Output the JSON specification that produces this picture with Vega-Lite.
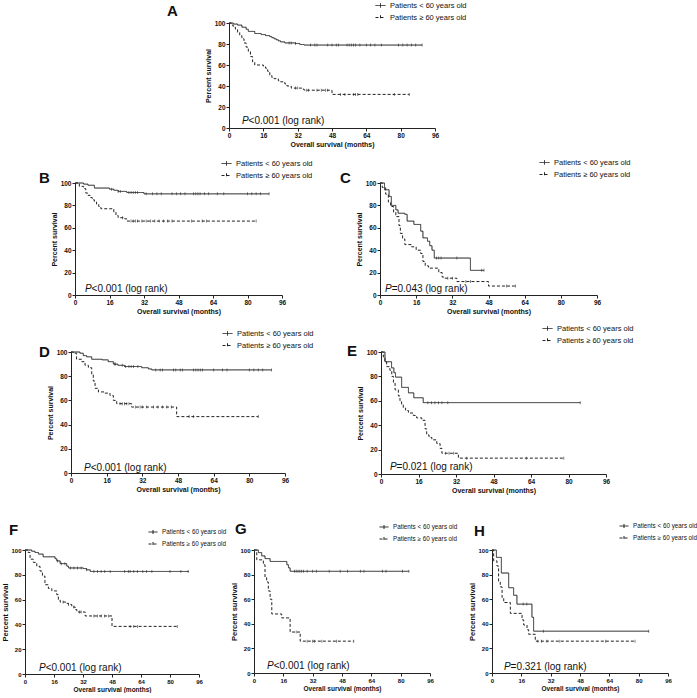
{
"$schema":"https://vega.github.io/schema/vega-lite/v6.json",
"padding":{"left":1,"top":0,"right":0,"bottom":0},
"datasets":{
"km":[
{"p":"A","g":"a","t":0,"s":100},{"p":"A","g":"a","t":2,"s":99},{"p":"A","g":"a","t":4,"s":98},{"p":"A","g":"a","t":6,"s":96},{"p":"A","g":"a","t":8,"s":94},{"p":"A","g":"a","t":9,"s":92},{"p":"A","g":"a","t":12,"s":90},{"p":"A","g":"a","t":15,"s":89},{"p":"A","g":"a","t":17,"s":88},{"p":"A","g":"a","t":19,"s":87},{"p":"A","g":"a","t":20,"s":86},{"p":"A","g":"a","t":21,"s":85},{"p":"A","g":"a","t":22,"s":84},{"p":"A","g":"a","t":23,"s":83},{"p":"A","g":"a","t":24,"s":82},{"p":"A","g":"a","t":26,"s":81},{"p":"A","g":"a","t":31,"s":80.5},{"p":"A","g":"a","t":33,"s":79.5},{"p":"A","g":"a","t":35,"s":79},{"p":"A","g":"a","t":90,"s":79},
{"p":"A","g":"b","t":0,"s":100},{"p":"A","g":"b","t":1,"s":98},{"p":"A","g":"b","t":2,"s":96},{"p":"A","g":"b","t":3,"s":94},{"p":"A","g":"b","t":4,"s":91},{"p":"A","g":"b","t":5,"s":88},{"p":"A","g":"b","t":6,"s":85},{"p":"A","g":"b","t":7,"s":81},{"p":"A","g":"b","t":8,"s":77},{"p":"A","g":"b","t":9,"s":73},{"p":"A","g":"b","t":10,"s":68},{"p":"A","g":"b","t":11,"s":63},{"p":"A","g":"b","t":12,"s":60},{"p":"A","g":"b","t":16,"s":59},{"p":"A","g":"b","t":17,"s":57},{"p":"A","g":"b","t":18,"s":54},{"p":"A","g":"b","t":19,"s":50},{"p":"A","g":"b","t":20,"s":48},{"p":"A","g":"b","t":21,"s":47},{"p":"A","g":"b","t":23,"s":45},{"p":"A","g":"b","t":24,"s":44},{"p":"A","g":"b","t":26,"s":42},{"p":"A","g":"b","t":27,"s":40},{"p":"A","g":"b","t":29,"s":38},{"p":"A","g":"b","t":34,"s":37},{"p":"A","g":"b","t":35,"s":36},{"p":"A","g":"b","t":48,"s":32},{"p":"A","g":"b","t":84,"s":32},
{"p":"B","g":"a","t":0,"s":100},{"p":"B","g":"a","t":4,"s":99},{"p":"B","g":"a","t":6,"s":98},{"p":"B","g":"a","t":9,"s":95.5},{"p":"B","g":"a","t":16,"s":94.5},{"p":"B","g":"a","t":18,"s":93.5},{"p":"B","g":"a","t":20,"s":92.5},{"p":"B","g":"a","t":24,"s":91.5},{"p":"B","g":"a","t":32,"s":90.3},{"p":"B","g":"a","t":90,"s":90.3},
{"p":"B","g":"b","t":0,"s":100},{"p":"B","g":"b","t":2,"s":97},{"p":"B","g":"b","t":4,"s":95},{"p":"B","g":"b","t":5,"s":91},{"p":"B","g":"b","t":6,"s":89},{"p":"B","g":"b","t":7,"s":87},{"p":"B","g":"b","t":8,"s":85},{"p":"B","g":"b","t":9,"s":83},{"p":"B","g":"b","t":10,"s":81},{"p":"B","g":"b","t":11,"s":79},{"p":"B","g":"b","t":12,"s":77},{"p":"B","g":"b","t":18,"s":74},{"p":"B","g":"b","t":19,"s":71},{"p":"B","g":"b","t":20,"s":69},{"p":"B","g":"b","t":23,"s":68},{"p":"B","g":"b","t":24,"s":66},{"p":"B","g":"b","t":84,"s":66},
{"p":"C","g":"a","t":0,"s":100},{"p":"C","g":"a","t":2,"s":94},{"p":"C","g":"a","t":4,"s":88},{"p":"C","g":"a","t":5,"s":80},{"p":"C","g":"a","t":7,"s":76},{"p":"C","g":"a","t":8,"s":73},{"p":"C","g":"a","t":11,"s":72},{"p":"C","g":"a","t":12,"s":66},{"p":"C","g":"a","t":15,"s":63},{"p":"C","g":"a","t":18,"s":57},{"p":"C","g":"a","t":19,"s":51},{"p":"C","g":"a","t":21,"s":48},{"p":"C","g":"a","t":22,"s":44},{"p":"C","g":"a","t":23,"s":40},{"p":"C","g":"a","t":24,"s":33},{"p":"C","g":"a","t":40,"s":22},{"p":"C","g":"a","t":46,"s":22},
{"p":"C","g":"b","t":0,"s":100},{"p":"C","g":"b","t":1,"s":96},{"p":"C","g":"b","t":2.5,"s":90},{"p":"C","g":"b","t":3.7,"s":83},{"p":"C","g":"b","t":4.7,"s":79},{"p":"C","g":"b","t":6,"s":74},{"p":"C","g":"b","t":7,"s":70},{"p":"C","g":"b","t":8.4,"s":62},{"p":"C","g":"b","t":9,"s":55},{"p":"C","g":"b","t":10,"s":50},{"p":"C","g":"b","t":11,"s":45},{"p":"C","g":"b","t":14,"s":43},{"p":"C","g":"b","t":16,"s":40},{"p":"C","g":"b","t":18,"s":37},{"p":"C","g":"b","t":19,"s":30},{"p":"C","g":"b","t":20,"s":26},{"p":"C","g":"b","t":21.5,"s":24},{"p":"C","g":"b","t":26,"s":20},{"p":"C","g":"b","t":27.5,"s":16},{"p":"C","g":"b","t":28.5,"s":15},{"p":"C","g":"b","t":34,"s":12},{"p":"C","g":"b","t":48,"s":8},{"p":"C","g":"b","t":60,"s":8},
{"p":"D","g":"a","t":0,"s":100},{"p":"D","g":"a","t":4,"s":99},{"p":"D","g":"a","t":5.5,"s":97},{"p":"D","g":"a","t":7,"s":96},{"p":"D","g":"a","t":9.3,"s":94},{"p":"D","g":"a","t":14,"s":93.5},{"p":"D","g":"a","t":16.7,"s":92},{"p":"D","g":"a","t":19,"s":90},{"p":"D","g":"a","t":21,"s":89},{"p":"D","g":"a","t":24,"s":88},{"p":"D","g":"a","t":31.7,"s":87},{"p":"D","g":"a","t":34.7,"s":86},{"p":"D","g":"a","t":36.2,"s":85.2},{"p":"D","g":"a","t":90,"s":85.2},
{"p":"D","g":"b","t":0,"s":100},{"p":"D","g":"b","t":1,"s":99},{"p":"D","g":"b","t":2.5,"s":94},{"p":"D","g":"b","t":4.8,"s":92},{"p":"D","g":"b","t":6.3,"s":89},{"p":"D","g":"b","t":7.8,"s":87},{"p":"D","g":"b","t":9.3,"s":81.6},{"p":"D","g":"b","t":10,"s":76},{"p":"D","g":"b","t":10.8,"s":70},{"p":"D","g":"b","t":12.3,"s":67},{"p":"D","g":"b","t":15.2,"s":66},{"p":"D","g":"b","t":17.5,"s":64},{"p":"D","g":"b","t":19,"s":60},{"p":"D","g":"b","t":20.5,"s":57.3},{"p":"D","g":"b","t":27.2,"s":54.5},{"p":"D","g":"b","t":47.4,"s":46.6},{"p":"D","g":"b","t":84,"s":46.6},
{"p":"E","g":"a","t":0,"s":100},{"p":"E","g":"a","t":1.7,"s":92},{"p":"E","g":"a","t":4.5,"s":87},{"p":"E","g":"a","t":5.5,"s":83},{"p":"E","g":"a","t":6.2,"s":79.4},{"p":"E","g":"a","t":8.8,"s":71},{"p":"E","g":"a","t":11.7,"s":66.5},{"p":"E","g":"a","t":14,"s":62.5},{"p":"E","g":"a","t":18,"s":58.5},{"p":"E","g":"a","t":85,"s":58.5},
{"p":"E","g":"b","t":0,"s":100},{"p":"E","g":"b","t":1,"s":96},{"p":"E","g":"b","t":1.7,"s":92},{"p":"E","g":"b","t":2.4,"s":88},{"p":"E","g":"b","t":3.8,"s":85},{"p":"E","g":"b","t":4.6,"s":80},{"p":"E","g":"b","t":5.3,"s":75},{"p":"E","g":"b","t":6,"s":69},{"p":"E","g":"b","t":7.4,"s":64},{"p":"E","g":"b","t":8.1,"s":60},{"p":"E","g":"b","t":8.8,"s":57},{"p":"E","g":"b","t":9.5,"s":54},{"p":"E","g":"b","t":10.5,"s":52},{"p":"E","g":"b","t":11.7,"s":50},{"p":"E","g":"b","t":13.8,"s":48},{"p":"E","g":"b","t":15.2,"s":46},{"p":"E","g":"b","t":17.4,"s":44},{"p":"E","g":"b","t":18.8,"s":37},{"p":"E","g":"b","t":19.5,"s":32},{"p":"E","g":"b","t":20.5,"s":30},{"p":"E","g":"b","t":21.7,"s":28},{"p":"E","g":"b","t":23.8,"s":25},{"p":"E","g":"b","t":25.2,"s":21},{"p":"E","g":"b","t":26,"s":17},{"p":"E","g":"b","t":33,"s":13},{"p":"E","g":"b","t":78,"s":13},
{"p":"F","g":"a","t":0,"s":100},{"p":"F","g":"a","t":3.7,"s":99},{"p":"F","g":"a","t":5.5,"s":98},{"p":"F","g":"a","t":7.4,"s":96.7},{"p":"F","g":"a","t":10,"s":94.5},{"p":"F","g":"a","t":16.6,"s":93},{"p":"F","g":"a","t":17.5,"s":91.2},{"p":"F","g":"a","t":19.4,"s":89},{"p":"F","g":"a","t":23,"s":87},{"p":"F","g":"a","t":24,"s":85.5},{"p":"F","g":"a","t":32.3,"s":85},{"p":"F","g":"a","t":34,"s":84},{"p":"F","g":"a","t":36,"s":82.7},{"p":"F","g":"a","t":90.4,"s":82.7},
{"p":"F","g":"b","t":0,"s":100},{"p":"F","g":"b","t":1.8,"s":98},{"p":"F","g":"b","t":2.8,"s":92.6},{"p":"F","g":"b","t":4.6,"s":90},{"p":"F","g":"b","t":6.5,"s":86.8},{"p":"F","g":"b","t":8.3,"s":83},{"p":"F","g":"b","t":9.6,"s":78.9},{"p":"F","g":"b","t":11,"s":72},{"p":"F","g":"b","t":12.9,"s":69},{"p":"F","g":"b","t":14.8,"s":67},{"p":"F","g":"b","t":17.5,"s":64},{"p":"F","g":"b","t":18.4,"s":60},{"p":"F","g":"b","t":19.4,"s":58},{"p":"F","g":"b","t":23,"s":57},{"p":"F","g":"b","t":24,"s":56},{"p":"F","g":"b","t":25.8,"s":54},{"p":"F","g":"b","t":27.7,"s":52},{"p":"F","g":"b","t":28.6,"s":50},{"p":"F","g":"b","t":33.2,"s":46.8},{"p":"F","g":"b","t":48,"s":38.4},{"p":"F","g":"b","t":84,"s":38.4},
{"p":"G","g":"a","t":0,"s":100},{"p":"G","g":"a","t":2.4,"s":97.9},{"p":"G","g":"a","t":4.2,"s":95.2},{"p":"G","g":"a","t":6,"s":93},{"p":"G","g":"a","t":8.8,"s":90.7},{"p":"G","g":"a","t":17.9,"s":88},{"p":"G","g":"a","t":18.8,"s":85.5},{"p":"G","g":"a","t":19.7,"s":82.7},{"p":"G","g":"a","t":84.5,"s":82.7},
{"p":"G","g":"b","t":0,"s":100},{"p":"G","g":"b","t":1.5,"s":92},{"p":"G","g":"b","t":5.1,"s":88},{"p":"G","g":"b","t":6,"s":78},{"p":"G","g":"b","t":6.9,"s":74},{"p":"G","g":"b","t":7.8,"s":66.7},{"p":"G","g":"b","t":8.8,"s":60},{"p":"G","g":"b","t":9.7,"s":48},{"p":"G","g":"b","t":15.1,"s":44.8},{"p":"G","g":"b","t":19.7,"s":33.3},{"p":"G","g":"b","t":25.2,"s":25.9},{"p":"G","g":"b","t":54.4,"s":25.9},
{"p":"H","g":"a","t":0,"s":100},{"p":"H","g":"a","t":2.4,"s":94},{"p":"H","g":"a","t":5.1,"s":81.3},{"p":"H","g":"a","t":9.1,"s":69.3},{"p":"H","g":"a","t":11.8,"s":63.2},{"p":"H","g":"a","t":13.6,"s":56},{"p":"H","g":"a","t":21.8,"s":45.3},{"p":"H","g":"a","t":22.7,"s":34},{"p":"H","g":"a","t":85.5,"s":34},
{"p":"H","g":"b","t":0,"s":100},{"p":"H","g":"b","t":0.9,"s":91.2},{"p":"H","g":"b","t":2.7,"s":87},{"p":"H","g":"b","t":3.6,"s":74},{"p":"H","g":"b","t":4.5,"s":70},{"p":"H","g":"b","t":5.5,"s":61.3},{"p":"H","g":"b","t":6.4,"s":57.3},{"p":"H","g":"b","t":10,"s":48.5},{"p":"H","g":"b","t":16.4,"s":43.2},{"p":"H","g":"b","t":17.3,"s":39},{"p":"H","g":"b","t":19.1,"s":35.2},{"p":"H","g":"b","t":20,"s":31.5},{"p":"H","g":"b","t":23.6,"s":25.9},{"p":"H","g":"b","t":78,"s":25.9}
],
"cens":[
{"p":"A","t":28,"s":81},{"p":"A","t":29,"s":81},{"p":"A","t":31,"s":80.5},{"p":"A","t":38,"s":79},{"p":"A","t":40,"s":79},{"p":"A","t":41,"s":79},{"p":"A","t":46,"s":79},{"p":"A","t":48,"s":79},{"p":"A","t":50,"s":79},{"p":"A","t":51,"s":79},{"p":"A","t":55,"s":79},{"p":"A","t":56,"s":79},{"p":"A","t":57,"s":79},{"p":"A","t":58,"s":79},{"p":"A","t":59,"s":79},{"p":"A","t":61,"s":79},{"p":"A","t":64,"s":79},{"p":"A","t":66,"s":79},{"p":"A","t":68,"s":79},{"p":"A","t":71,"s":79},{"p":"A","t":79,"s":79},{"p":"A","t":81,"s":79},{"p":"A","t":83,"s":79},{"p":"A","t":85,"s":79},{"p":"A","t":87,"s":79},{"p":"A","t":90,"s":79},
{"p":"A","t":31,"s":38},{"p":"A","t":32,"s":38},{"p":"A","t":36,"s":36},{"p":"A","t":37,"s":36},{"p":"A","t":41,"s":36},{"p":"A","t":43,"s":36},{"p":"A","t":45,"s":36},{"p":"A","t":46,"s":36},{"p":"A","t":52,"s":32},{"p":"A","t":54,"s":32},{"p":"A","t":58,"s":32},{"p":"A","t":59,"s":32},{"p":"A","t":60,"s":32},{"p":"A","t":77,"s":32},{"p":"A","t":84,"s":32},
{"p":"B","t":17,"s":94.5},{"p":"B","t":20,"s":92.5},{"p":"B","t":21,"s":92.5},{"p":"B","t":25,"s":91.5},{"p":"B","t":26,"s":91.5},{"p":"B","t":27,"s":91.5},{"p":"B","t":28,"s":91.5},{"p":"B","t":29,"s":91.5},{"p":"B","t":33,"s":90.3},{"p":"B","t":36,"s":90.3},{"p":"B","t":38,"s":90.3},{"p":"B","t":40,"s":90.3},{"p":"B","t":45,"s":90.3},{"p":"B","t":47,"s":90.3},{"p":"B","t":49,"s":90.3},{"p":"B","t":51,"s":90.3},{"p":"B","t":55,"s":90.3},{"p":"B","t":56,"s":90.3},{"p":"B","t":57,"s":90.3},{"p":"B","t":58,"s":90.3},{"p":"B","t":60,"s":90.3},{"p":"B","t":62,"s":90.3},{"p":"B","t":66,"s":90.3},{"p":"B","t":69,"s":90.3},{"p":"B","t":80,"s":90.3},{"p":"B","t":82,"s":90.3},{"p":"B","t":84,"s":90.3},{"p":"B","t":86,"s":90.3},{"p":"B","t":90,"s":90.3},
{"p":"B","t":22,"s":69},{"p":"B","t":26,"s":66},{"p":"B","t":27,"s":66},{"p":"B","t":28,"s":66},{"p":"B","t":29,"s":66},{"p":"B","t":31,"s":66},{"p":"B","t":33,"s":66},{"p":"B","t":35,"s":66},{"p":"B","t":37,"s":66},{"p":"B","t":39,"s":66},{"p":"B","t":41,"s":66},{"p":"B","t":43,"s":66},{"p":"B","t":45,"s":66},{"p":"B","t":54,"s":66},{"p":"B","t":59,"s":66},{"p":"B","t":61,"s":66},{"p":"B","t":84,"s":66},
{"p":"C","t":25,"s":33},{"p":"C","t":26,"s":33},{"p":"C","t":27,"s":33},{"p":"C","t":34,"s":33},{"p":"C","t":45,"s":22},{"p":"C","t":46,"s":22},
{"p":"C","t":30,"s":15},{"p":"C","t":32,"s":15},{"p":"C","t":38,"s":12},{"p":"C","t":40,"s":12},{"p":"C","t":56,"s":8},{"p":"C","t":60,"s":8},
{"p":"D","t":19.5,"s":90},{"p":"D","t":20,"s":90},{"p":"D","t":23,"s":89},{"p":"D","t":24.5,"s":88},{"p":"D","t":26,"s":88},{"p":"D","t":27,"s":88},{"p":"D","t":28,"s":88},{"p":"D","t":30,"s":88},{"p":"D","t":38,"s":85.2},{"p":"D","t":40,"s":85.2},{"p":"D","t":41,"s":85.2},{"p":"D","t":46,"s":85.2},{"p":"D","t":47,"s":85.2},{"p":"D","t":49,"s":85.2},{"p":"D","t":50,"s":85.2},{"p":"D","t":55,"s":85.2},{"p":"D","t":56,"s":85.2},{"p":"D","t":57,"s":85.2},{"p":"D","t":58,"s":85.2},{"p":"D","t":59,"s":85.2},{"p":"D","t":64,"s":85.2},{"p":"D","t":68,"s":85.2},{"p":"D","t":70,"s":85.2},{"p":"D","t":80,"s":85.2},{"p":"D","t":82,"s":85.2},{"p":"D","t":84,"s":85.2},{"p":"D","t":86,"s":85.2},{"p":"D","t":90,"s":85.2},
{"p":"D","t":22,"s":57.3},{"p":"D","t":23,"s":57.3},{"p":"D","t":24,"s":57.3},{"p":"D","t":25,"s":57.3},{"p":"D","t":26,"s":57.3},{"p":"D","t":29,"s":54.5},{"p":"D","t":31,"s":54.5},{"p":"D","t":32,"s":54.5},{"p":"D","t":34,"s":54.5},{"p":"D","t":37,"s":54.5},{"p":"D","t":39,"s":54.5},{"p":"D","t":41,"s":54.5},{"p":"D","t":43,"s":54.5},{"p":"D","t":45,"s":54.5},{"p":"D","t":53,"s":46.6},{"p":"D","t":55,"s":46.6},{"p":"D","t":84,"s":46.6},
{"p":"E","t":20,"s":58.5},{"p":"E","t":21.5,"s":58.5},{"p":"E","t":23,"s":58.5},{"p":"E","t":24.5,"s":58.5},{"p":"E","t":26,"s":58.5},{"p":"E","t":28.5,"s":58.5},{"p":"E","t":85,"s":58.5},
{"p":"E","t":27.5,"s":17},{"p":"E","t":29,"s":17},{"p":"E","t":31,"s":17},{"p":"E","t":36.6,"s":13},{"p":"E","t":62,"s":13},{"p":"E","t":78,"s":13},
{"p":"F","t":18,"s":91.2},{"p":"F","t":20,"s":89},{"p":"F","t":22,"s":89},{"p":"F","t":25,"s":85.5},{"p":"F","t":27,"s":85.5},{"p":"F","t":29,"s":85.5},{"p":"F","t":31,"s":85.5},{"p":"F","t":34,"s":84},{"p":"F","t":38,"s":82.7},{"p":"F","t":40,"s":82.7},{"p":"F","t":42,"s":82.7},{"p":"F","t":44,"s":82.7},{"p":"F","t":47,"s":82.7},{"p":"F","t":55,"s":82.7},{"p":"F","t":57,"s":82.7},{"p":"F","t":58,"s":82.7},{"p":"F","t":60,"s":82.7},{"p":"F","t":62,"s":82.7},{"p":"F","t":65,"s":82.7},{"p":"F","t":67,"s":82.7},{"p":"F","t":70,"s":82.7},{"p":"F","t":80,"s":82.7},{"p":"F","t":86,"s":82.7},{"p":"F","t":90,"s":82.7},
{"p":"F","t":21,"s":58},{"p":"F","t":24,"s":56},{"p":"F","t":27,"s":54},{"p":"F","t":30,"s":50},{"p":"F","t":31,"s":50},{"p":"F","t":38,"s":46.8},{"p":"F","t":40,"s":46.8},{"p":"F","t":42,"s":46.8},{"p":"F","t":44,"s":46.8},{"p":"F","t":46,"s":46.8},{"p":"F","t":58,"s":38.4},{"p":"F","t":60,"s":38.4},{"p":"F","t":62,"s":38.4},{"p":"F","t":84,"s":38.4},
{"p":"G","t":22,"s":82.7},{"p":"G","t":23,"s":82.7},{"p":"G","t":24,"s":82.7},{"p":"G","t":25,"s":82.7},{"p":"G","t":26,"s":82.7},{"p":"G","t":27,"s":82.7},{"p":"G","t":29,"s":82.7},{"p":"G","t":32,"s":82.7},{"p":"G","t":34,"s":82.7},{"p":"G","t":41,"s":82.7},{"p":"G","t":47,"s":82.7},{"p":"G","t":51,"s":82.7},{"p":"G","t":58,"s":82.7},{"p":"G","t":60,"s":82.7},{"p":"G","t":70,"s":82.7},{"p":"G","t":72,"s":82.7},{"p":"G","t":81,"s":82.7},{"p":"G","t":84.5,"s":82.7},
{"p":"G","t":23,"s":33.3},{"p":"G","t":29,"s":25.9},{"p":"G","t":32,"s":25.9},{"p":"G","t":33,"s":25.9},{"p":"G","t":37,"s":25.9},{"p":"G","t":45,"s":25.9},{"p":"G","t":54.4,"s":25.9},
{"p":"H","t":17,"s":56},{"p":"H","t":19,"s":56},{"p":"H","t":28,"s":34},{"p":"H","t":85.5,"s":34},
{"p":"H","t":25,"s":25.9},{"p":"H","t":27,"s":25.9},{"p":"H","t":30,"s":25.9},{"p":"H","t":37,"s":25.9},{"p":"H","t":62,"s":25.9},{"p":"H","t":78,"s":25.9}
]
},
"bounds":"flush",
"spacing":0,
"resolve":{"scale":{"strokeDash":"independent"},"legend":{"strokeDash":"independent"}},
"vconcat":[
{"hconcat":[
 {"width":204,"height":1,"data":{"values":[]},"mark":"point","encoding":{}},
 {"width":206,"height":105,
  "title":{"text":"A","anchor":"start","frame":"group","offset":0,"dx":-62,"dy":31,"fontSize":15,"fontWeight":"bold","baseline":"alphabetic","color":"#111"},
  "layer":[
   {"data":{"name":"km"},"transform":[{"filter":"datum.p=='A'"}],"mark":{"type":"line","interpolate":"step-after","color":"#222","strokeWidth":1},"encoding":{"x":{"field":"t","type":"quantitative","scale":{"domain":[0,96],"nice":false},"axis":{"values":[0,16,32,48,64,80,96],"title":"Overall survival (months)","labelOverlap":false}},"y":{"field":"s","type":"quantitative","scale":{"domain":[0,100]},"axis":{"values":[0,20,40,60,80,100],"title":"Percent survival","labelOverlap":false}},"strokeDash":{"field":"g","type":"nominal","title":null,"scale":{"domain":["a","b"],"range":[[1,0],[3,2]]},"legend":{"orient":"none","legendX":146,"legendY":-23,"labelExpr":"datum.value === 'a' ? 'Patients < 60 years old' : 'Patients ≥ 60 years old'","symbolType":"M-1,0H1M0,-0.45V0.45","labelFontSize":7.5}}}},
   {"data":{"name":"cens"},"transform":[{"filter":"datum.p=='A'"}],"mark":{"type":"tick","orient":"vertical","size":3,"thickness":0.8,"color":"#222"},"encoding":{"x":{"field":"t","type":"quantitative","scale":{"domain":[0,96],"nice":false},"axis":{"values":[0,16,32,48,64,80,96],"title":"Overall survival (months)","labelOverlap":false}},"y":{"field":"s","type":"quantitative","scale":{"domain":[0,100]},"axis":{"values":[0,20,40,60,80,100],"title":"Percent survival","labelOverlap":false}}}},
   {"data":{"values":[{"lbl":"P"}]},"mark":{"type":"text","fontStyle":"italic","fontSize":10,"align":"left","baseline":"alphabetic","color":"#111"},"encoding":{"x":{"datum":6,"type":"quantitative","scale":{"domain":[0,96],"nice":false},"axis":{"values":[0,16,32,48,64,80,96],"title":"Overall survival (months)","labelOverlap":false}},"y":{"datum":4,"type":"quantitative","scale":{"domain":[0,100]},"axis":{"values":[0,20,40,60,80,100],"title":"Percent survival","labelOverlap":false}},"text":{"field":"lbl"}}},
   {"data":{"values":[{"lbl":"<0.001 (log rank)"}]},"mark":{"type":"text","dx":6.7,"fontSize":10,"align":"left","baseline":"alphabetic","color":"#111"},"encoding":{"x":{"datum":6,"type":"quantitative","scale":{"domain":[0,96],"nice":false},"axis":{"values":[0,16,32,48,64,80,96],"title":"Overall survival (months)","labelOverlap":false}},"y":{"datum":4,"type":"quantitative","scale":{"domain":[0,100]},"axis":{"values":[0,20,40,60,80,100],"title":"Percent survival","labelOverlap":false}},"text":{"field":"lbl"}}}
  ]}
 ],"spacing":0,"bounds":"flush","resolve":{"scale":{"strokeDash":"independent"},"legend":{"strokeDash":"independent"}}},
{"width":1,"height":160,"data":{"values":[]},"mark":"point","encoding":{}},
{"hconcat":[
 {"width":50,"height":1,"data":{"values":[]},"mark":"point","encoding":{}},
 {"hconcat":[
  {"width":207,"height":112,
   "title":{"text":"B","anchor":"start","frame":"group","offset":0,"dx":-36,"dy":40,"fontSize":15,"fontWeight":"bold","baseline":"alphabetic","color":"#111"},
   "layer":[
    {"data":{"name":"km"},"transform":[{"filter":"datum.p=='B'"}],"mark":{"type":"line","interpolate":"step-after","color":"#222","strokeWidth":1},"encoding":{"x":{"field":"t","type":"quantitative","scale":{"domain":[0,96],"nice":false},"axis":{"values":[0,16,32,48,64,80,96],"title":"Overall survival (months)","labelOverlap":false}},"y":{"field":"s","type":"quantitative","scale":{"domain":[0,100]},"axis":{"values":[0,20,40,60,80,100],"title":"Percent survival","labelOverlap":false}},"strokeDash":{"field":"g","type":"nominal","title":null,"scale":{"domain":["a","b"],"range":[[1,0],[3,2]]},"legend":{"orient":"none","legendX":146,"legendY":-25,"labelExpr":"datum.value === 'a' ? 'Patients < 60 years old' : 'Patients ≥ 60 years old'","symbolType":"M-1,0H1M0,-0.45V0.45","labelFontSize":7.5}}}},
    {"data":{"name":"cens"},"transform":[{"filter":"datum.p=='B'"}],"mark":{"type":"tick","orient":"vertical","size":3,"thickness":0.8,"color":"#222"},"encoding":{"x":{"field":"t","type":"quantitative","scale":{"domain":[0,96],"nice":false},"axis":{"values":[0,16,32,48,64,80,96],"title":"Overall survival (months)","labelOverlap":false}},"y":{"field":"s","type":"quantitative","scale":{"domain":[0,100]},"axis":{"values":[0,20,40,60,80,100],"title":"Percent survival","labelOverlap":false}}}},
    {"data":{"values":[{"lbl":"P"}]},"mark":{"type":"text","fontStyle":"italic","fontSize":10,"align":"left","baseline":"alphabetic","color":"#111"},"encoding":{"x":{"datum":4.6,"type":"quantitative","scale":{"domain":[0,96],"nice":false},"axis":{"values":[0,16,32,48,64,80,96],"title":"Overall survival (months)","labelOverlap":false}},"y":{"datum":3,"type":"quantitative","scale":{"domain":[0,100]},"axis":{"values":[0,20,40,60,80,100],"title":"Percent survival","labelOverlap":false}},"text":{"field":"lbl"}}},
    {"data":{"values":[{"lbl":"<0.001 (log rank)"}]},"mark":{"type":"text","dx":6.7,"fontSize":10,"align":"left","baseline":"alphabetic","color":"#111"},"encoding":{"x":{"datum":4.6,"type":"quantitative","scale":{"domain":[0,96],"nice":false},"axis":{"values":[0,16,32,48,64,80,96],"title":"Overall survival (months)","labelOverlap":false}},"y":{"datum":3,"type":"quantitative","scale":{"domain":[0,100]},"axis":{"values":[0,20,40,60,80,100],"title":"Percent survival","labelOverlap":false}},"text":{"field":"lbl"}}}
   ]},
  {"width":217,"height":112,
   "title":{"text":"C","anchor":"start","frame":"group","offset":0,"dx":-40,"dy":41,"fontSize":15,"fontWeight":"bold","baseline":"alphabetic","color":"#111"},
   "layer":[
    {"data":{"name":"km"},"transform":[{"filter":"datum.p=='C'"}],"mark":{"type":"line","interpolate":"step-after","color":"#222","strokeWidth":1},"encoding":{"x":{"field":"t","type":"quantitative","scale":{"domain":[0,96],"nice":false},"axis":{"values":[0,16,32,48,64,80,96],"title":"Overall survival (months)","labelOverlap":false}},"y":{"field":"s","type":"quantitative","scale":{"domain":[0,100]},"axis":{"values":[0,20,40,60,80,100],"title":"Percent survival","labelOverlap":false}},"strokeDash":{"field":"g","type":"nominal","title":null,"scale":{"domain":["a","b"],"range":[[1,0],[3,2]]},"legend":{"orient":"none","legendX":159,"legendY":-26,"labelExpr":"datum.value === 'a' ? 'Patients < 60 years old' : 'Patients ≥ 60 years old'","symbolType":"M-1,0H1M0,-0.45V0.45","labelFontSize":7.5}}}},
    {"data":{"name":"cens"},"transform":[{"filter":"datum.p=='C'"}],"mark":{"type":"tick","orient":"vertical","size":3,"thickness":0.8,"color":"#222"},"encoding":{"x":{"field":"t","type":"quantitative","scale":{"domain":[0,96],"nice":false},"axis":{"values":[0,16,32,48,64,80,96],"title":"Overall survival (months)","labelOverlap":false}},"y":{"field":"s","type":"quantitative","scale":{"domain":[0,100]},"axis":{"values":[0,20,40,60,80,100],"title":"Percent survival","labelOverlap":false}}}},
    {"data":{"values":[{"lbl":"P"}]},"mark":{"type":"text","fontStyle":"italic","fontSize":10,"align":"left","baseline":"alphabetic","color":"#111"},"encoding":{"x":{"datum":2.2,"type":"quantitative","scale":{"domain":[0,96],"nice":false},"axis":{"values":[0,16,32,48,64,80,96],"title":"Overall survival (months)","labelOverlap":false}},"y":{"datum":2.7,"type":"quantitative","scale":{"domain":[0,100]},"axis":{"values":[0,20,40,60,80,100],"title":"Percent survival","labelOverlap":false}},"text":{"field":"lbl"}}},
    {"data":{"values":[{"lbl":"=0.043 (log rank)"}]},"mark":{"type":"text","dx":6.7,"fontSize":10,"align":"left","baseline":"alphabetic","color":"#111"},"encoding":{"x":{"datum":2.2,"type":"quantitative","scale":{"domain":[0,96],"nice":false},"axis":{"values":[0,16,32,48,64,80,96],"title":"Overall survival (months)","labelOverlap":false}},"y":{"datum":2.7,"type":"quantitative","scale":{"domain":[0,100]},"axis":{"values":[0,20,40,60,80,100],"title":"Percent survival","labelOverlap":false}},"text":{"field":"lbl"}}}
   ]}
 ],"spacing":98,"bounds":"flush","resolve":{"scale":{"strokeDash":"independent"},"legend":{"strokeDash":"independent"}}}
 ],"spacing":0,"bounds":"flush","resolve":{"scale":{"strokeDash":"independent"},"legend":{"strokeDash":"independent"}}},
{"width":1,"height":169,"data":{"values":[]},"mark":"point","encoding":{}},
{"hconcat":[
 {"width":46,"height":1,"data":{"values":[]},"mark":"point","encoding":{}},
 {"hconcat":[
  {"width":214,"height":121,
   "title":{"text":"D","anchor":"start","frame":"group","offset":0,"dx":-32,"dy":44,"fontSize":15,"fontWeight":"bold","baseline":"alphabetic","color":"#111"},
   "layer":[
    {"data":{"name":"km"},"transform":[{"filter":"datum.p=='D'"}],"mark":{"type":"line","interpolate":"step-after","color":"#222","strokeWidth":1},"encoding":{"x":{"field":"t","type":"quantitative","scale":{"domain":[0,96],"nice":false},"axis":{"values":[0,16,32,48,64,80,96],"title":"Overall survival (months)","labelOverlap":false}},"y":{"field":"s","type":"quantitative","scale":{"domain":[0,100]},"axis":{"values":[0,20,40,60,80,100],"title":"Percent survival","labelOverlap":false}},"strokeDash":{"field":"g","type":"nominal","title":null,"scale":{"domain":["a","b"],"range":[[1,0],[3,2]]},"legend":{"orient":"none","legendX":151,"legendY":-24,"labelExpr":"datum.value === 'a' ? 'Patients < 60 years old' : 'Patients ≥ 60 years old'","symbolType":"M-1,0H1M0,-0.45V0.45","labelFontSize":7.5}}}},
    {"data":{"name":"cens"},"transform":[{"filter":"datum.p=='D'"}],"mark":{"type":"tick","orient":"vertical","size":3,"thickness":0.8,"color":"#222"},"encoding":{"x":{"field":"t","type":"quantitative","scale":{"domain":[0,96],"nice":false},"axis":{"values":[0,16,32,48,64,80,96],"title":"Overall survival (months)","labelOverlap":false}},"y":{"field":"s","type":"quantitative","scale":{"domain":[0,100]},"axis":{"values":[0,20,40,60,80,100],"title":"Percent survival","labelOverlap":false}}}},
    {"data":{"values":[{"lbl":"P"}]},"mark":{"type":"text","fontStyle":"italic","fontSize":10,"align":"left","baseline":"alphabetic","color":"#111"},"encoding":{"x":{"datum":5.8,"type":"quantitative","scale":{"domain":[0,96],"nice":false},"axis":{"values":[0,16,32,48,64,80,96],"title":"Overall survival (months)","labelOverlap":false}},"y":{"datum":2,"type":"quantitative","scale":{"domain":[0,100]},"axis":{"values":[0,20,40,60,80,100],"title":"Percent survival","labelOverlap":false}},"text":{"field":"lbl"}}},
    {"data":{"values":[{"lbl":"<0.001 (log rank)"}]},"mark":{"type":"text","dx":6.7,"fontSize":10,"align":"left","baseline":"alphabetic","color":"#111"},"encoding":{"x":{"datum":5.8,"type":"quantitative","scale":{"domain":[0,96],"nice":false},"axis":{"values":[0,16,32,48,64,80,96],"title":"Overall survival (months)","labelOverlap":false}},"y":{"datum":2,"type":"quantitative","scale":{"domain":[0,100]},"axis":{"values":[0,20,40,60,80,100],"title":"Percent survival","labelOverlap":false}},"text":{"field":"lbl"}}}
   ]},
  {"width":225,"height":122,
   "title":{"text":"E","anchor":"start","frame":"group","offset":0,"dx":-34,"dy":48,"fontSize":15,"fontWeight":"bold","baseline":"alphabetic","color":"#111"},
   "layer":[
    {"data":{"name":"km"},"transform":[{"filter":"datum.p=='E'"}],"mark":{"type":"line","interpolate":"step-after","color":"#222","strokeWidth":1},"encoding":{"x":{"field":"t","type":"quantitative","scale":{"domain":[0,96],"nice":false},"axis":{"values":[0,16,32,48,64,80,96],"title":"Overall survival (months)","labelOverlap":false}},"y":{"field":"s","type":"quantitative","scale":{"domain":[0,100]},"axis":{"values":[0,20,40,60,80,100],"title":"Percent survival","labelOverlap":false}},"strokeDash":{"field":"g","type":"nominal","title":null,"scale":{"domain":["a","b"],"range":[[1,0],[3,2]]},"legend":{"orient":"none","legendX":161,"legendY":-29,"labelExpr":"datum.value === 'a' ? 'Patients < 60 years old' : 'Patients ≥ 60 years old'","symbolType":"M-1,0H1M0,-0.45V0.45","labelFontSize":7.5}}}},
    {"data":{"name":"cens"},"transform":[{"filter":"datum.p=='E'"}],"mark":{"type":"tick","orient":"vertical","size":3,"thickness":0.8,"color":"#222"},"encoding":{"x":{"field":"t","type":"quantitative","scale":{"domain":[0,96],"nice":false},"axis":{"values":[0,16,32,48,64,80,96],"title":"Overall survival (months)","labelOverlap":false}},"y":{"field":"s","type":"quantitative","scale":{"domain":[0,100]},"axis":{"values":[0,20,40,60,80,100],"title":"Percent survival","labelOverlap":false}}}},
    {"data":{"values":[{"lbl":"P"}]},"mark":{"type":"text","fontStyle":"italic","fontSize":10,"align":"left","baseline":"alphabetic","color":"#111"},"encoding":{"x":{"datum":3.8,"type":"quantitative","scale":{"domain":[0,96],"nice":false},"axis":{"values":[0,16,32,48,64,80,96],"title":"Overall survival (months)","labelOverlap":false}},"y":{"datum":3,"type":"quantitative","scale":{"domain":[0,100]},"axis":{"values":[0,20,40,60,80,100],"title":"Percent survival","labelOverlap":false}},"text":{"field":"lbl"}}},
    {"data":{"values":[{"lbl":"=0.021 (log rank)"}]},"mark":{"type":"text","dx":6.7,"fontSize":10,"align":"left","baseline":"alphabetic","color":"#111"},"encoding":{"x":{"datum":3.8,"type":"quantitative","scale":{"domain":[0,96],"nice":false},"axis":{"values":[0,16,32,48,64,80,96],"title":"Overall survival (months)","labelOverlap":false}},"y":{"datum":3,"type":"quantitative","scale":{"domain":[0,100]},"axis":{"values":[0,20,40,60,80,100],"title":"Percent survival","labelOverlap":false}},"text":{"field":"lbl"}}}
   ]}
 ],"spacing":96,"bounds":"flush","resolve":{"scale":{"strokeDash":"independent"},"legend":{"strokeDash":"independent"}}}
 ],"spacing":0,"bounds":"flush","resolve":{"scale":{"strokeDash":"independent"},"legend":{"strokeDash":"independent"}}},
{"width":1,"height":198,"data":{"values":[]},"mark":"point","encoding":{}},
{"hconcat":[
 {"width":174,"height":124,
  "title":{"text":"F","anchor":"start","frame":"group","offset":0,"dx":-16,"dy":23,"fontSize":15,"fontWeight":"bold","baseline":"alphabetic","color":"#111"},
  "layer":[
   {"data":{"name":"km"},"transform":[{"filter":"datum.p=='F'"}],"mark":{"type":"line","interpolate":"step-after","color":"#222","strokeWidth":1},"encoding":{"x":{"field":"t","type":"quantitative","scale":{"domain":[0,96],"nice":false},"axis":{"values":[0,16,32,48,64,80,96],"title":"Overall survival (months)","labelFontSize":6,"titleFontSize":6.5,"labelOverlap":false}},"y":{"field":"s","type":"quantitative","scale":{"domain":[0,100]},"axis":{"values":[0,20,40,60,80,100],"title":"Percent survival","labelFontSize":6,"titleFontSize":7.5,"titlePadding":1,"labelOverlap":false}},"strokeDash":{"field":"g","type":"nominal","title":null,"scale":{"domain":["a","b"],"range":[[1,0],[3,2]]},"legend":{"orient":"none","legendX":123,"legendY":-23,"labelExpr":"datum.value === 'a' ? 'Patients < 60 years old' : 'Patients ≥ 60 years old'","symbolType":"M-1,0H1M0,-0.45V0.45","labelFontSize":6.3,"symbolSize":81}}}},
   {"data":{"name":"cens"},"transform":[{"filter":"datum.p=='F'"}],"mark":{"type":"tick","orient":"vertical","size":3,"thickness":0.8,"color":"#222"},"encoding":{"x":{"field":"t","type":"quantitative","scale":{"domain":[0,96],"nice":false},"axis":{"values":[0,16,32,48,64,80,96],"title":"Overall survival (months)","labelFontSize":6,"titleFontSize":6.5,"labelOverlap":false}},"y":{"field":"s","type":"quantitative","scale":{"domain":[0,100]},"axis":{"values":[0,20,40,60,80,100],"title":"Percent survival","labelFontSize":6,"titleFontSize":7.5,"titlePadding":1,"labelOverlap":false}}}},
   {"data":{"values":[{"lbl":"P"}]},"mark":{"type":"text","fontStyle":"italic","fontSize":10,"align":"left","baseline":"alphabetic","color":"#111"},"encoding":{"x":{"datum":7.7,"type":"quantitative","scale":{"domain":[0,96],"nice":false},"axis":{"values":[0,16,32,48,64,80,96],"title":"Overall survival (months)","labelFontSize":6,"titleFontSize":6.5,"labelOverlap":false}},"y":{"datum":2.7,"type":"quantitative","scale":{"domain":[0,100]},"axis":{"values":[0,20,40,60,80,100],"title":"Percent survival","labelFontSize":6,"titleFontSize":7.5,"titlePadding":1,"labelOverlap":false}},"text":{"field":"lbl"}}},
   {"data":{"values":[{"lbl":"<0.001 (log rank)"}]},"mark":{"type":"text","dx":6.7,"fontSize":10,"align":"left","baseline":"alphabetic","color":"#111"},"encoding":{"x":{"datum":7.7,"type":"quantitative","scale":{"domain":[0,96],"nice":false},"axis":{"values":[0,16,32,48,64,80,96],"title":"Overall survival (months)","labelFontSize":6,"titleFontSize":6.5,"labelOverlap":false}},"y":{"datum":2.7,"type":"quantitative","scale":{"domain":[0,100]},"axis":{"values":[0,20,40,60,80,100],"title":"Percent survival","labelFontSize":6,"titleFontSize":7.5,"titlePadding":1,"labelOverlap":false}},"text":{"field":"lbl"}}}
  ]},
 {"hconcat":[
  {"width":176,"height":123,
   "title":{"text":"G","anchor":"start","frame":"group","offset":0,"dx":-19,"dy":27,"fontSize":15,"fontWeight":"bold","baseline":"alphabetic","color":"#111"},
   "layer":[
    {"data":{"name":"km"},"transform":[{"filter":"datum.p=='G'"}],"mark":{"type":"line","interpolate":"step-after","color":"#222","strokeWidth":1},"encoding":{"x":{"field":"t","type":"quantitative","scale":{"domain":[0,96],"nice":false},"axis":{"values":[0,16,32,48,64,80,96],"title":"Overall survival (months)","labelFontSize":6,"titleFontSize":6.5,"labelOverlap":false}},"y":{"field":"s","type":"quantitative","scale":{"domain":[0,100]},"axis":{"values":[0,20,40,60,80,100],"title":"Percent survival","labelFontSize":6,"titleFontSize":7.5,"titlePadding":1,"labelOverlap":false}},"strokeDash":{"field":"g","type":"nominal","title":null,"scale":{"domain":["a","b"],"range":[[1,0],[3,2]]},"legend":{"orient":"none","legendX":125,"legendY":-28,"labelExpr":"datum.value === 'a' ? 'Patients < 60 years old' : 'Patients ≥ 60 years old'","symbolType":"M-1,0H1M0,-0.45V0.45","labelFontSize":6.3,"symbolSize":81}}}},
    {"data":{"name":"cens"},"transform":[{"filter":"datum.p=='G'"}],"mark":{"type":"tick","orient":"vertical","size":3,"thickness":0.8,"color":"#222"},"encoding":{"x":{"field":"t","type":"quantitative","scale":{"domain":[0,96],"nice":false},"axis":{"values":[0,16,32,48,64,80,96],"title":"Overall survival (months)","labelFontSize":6,"titleFontSize":6.5,"labelOverlap":false}},"y":{"field":"s","type":"quantitative","scale":{"domain":[0,100]},"axis":{"values":[0,20,40,60,80,100],"title":"Percent survival","labelFontSize":6,"titleFontSize":7.5,"titlePadding":1,"labelOverlap":false}}}},
    {"data":{"values":[{"lbl":"P"}]},"mark":{"type":"text","fontStyle":"italic","fontSize":10,"align":"left","baseline":"alphabetic","color":"#111"},"encoding":{"x":{"datum":7.1,"type":"quantitative","scale":{"domain":[0,96],"nice":false},"axis":{"values":[0,16,32,48,64,80,96],"title":"Overall survival (months)","labelFontSize":6,"titleFontSize":6.5,"labelOverlap":false}},"y":{"datum":3,"type":"quantitative","scale":{"domain":[0,100]},"axis":{"values":[0,20,40,60,80,100],"title":"Percent survival","labelFontSize":6,"titleFontSize":7.5,"titlePadding":1,"labelOverlap":false}},"text":{"field":"lbl"}}},
    {"data":{"values":[{"lbl":"<0.001 (log rank)"}]},"mark":{"type":"text","dx":6.7,"fontSize":10,"align":"left","baseline":"alphabetic","color":"#111"},"encoding":{"x":{"datum":7.1,"type":"quantitative","scale":{"domain":[0,96],"nice":false},"axis":{"values":[0,16,32,48,64,80,96],"title":"Overall survival (months)","labelFontSize":6,"titleFontSize":6.5,"labelOverlap":false}},"y":{"datum":3,"type":"quantitative","scale":{"domain":[0,100]},"axis":{"values":[0,20,40,60,80,100],"title":"Percent survival","labelFontSize":6,"titleFontSize":7.5,"titlePadding":1,"labelOverlap":false}},"text":{"field":"lbl"}}}
   ]},
  {"width":176,"height":123,
   "title":{"text":"H","anchor":"start","frame":"group","offset":0,"dx":-18,"dy":30,"fontSize":15,"fontWeight":"bold","baseline":"alphabetic","color":"#111"},
   "layer":[
    {"data":{"name":"km"},"transform":[{"filter":"datum.p=='H'"}],"mark":{"type":"line","interpolate":"step-after","color":"#222","strokeWidth":1},"encoding":{"x":{"field":"t","type":"quantitative","scale":{"domain":[0,96],"nice":false},"axis":{"values":[0,16,32,48,64,80,96],"title":"Overall survival (months)","labelFontSize":6,"titleFontSize":6.5,"labelOverlap":false}},"y":{"field":"s","type":"quantitative","scale":{"domain":[0,100]},"axis":{"values":[0,20,40,60,80,100],"title":"Percent survival","labelFontSize":6,"titleFontSize":7.5,"titlePadding":1,"labelOverlap":false}},"strokeDash":{"field":"g","type":"nominal","title":null,"scale":{"domain":["a","b"],"range":[[1,0],[3,2]]},"legend":{"orient":"none","legendX":127,"legendY":-29,"labelExpr":"datum.value === 'a' ? 'Patients < 60 years old' : 'Patients ≥ 60 years old'","symbolType":"M-1,0H1M0,-0.45V0.45","labelFontSize":6.3,"symbolSize":81}}}},
    {"data":{"name":"cens"},"transform":[{"filter":"datum.p=='H'"}],"mark":{"type":"tick","orient":"vertical","size":3,"thickness":0.8,"color":"#222"},"encoding":{"x":{"field":"t","type":"quantitative","scale":{"domain":[0,96],"nice":false},"axis":{"values":[0,16,32,48,64,80,96],"title":"Overall survival (months)","labelFontSize":6,"titleFontSize":6.5,"labelOverlap":false}},"y":{"field":"s","type":"quantitative","scale":{"domain":[0,100]},"axis":{"values":[0,20,40,60,80,100],"title":"Percent survival","labelFontSize":6,"titleFontSize":7.5,"titlePadding":1,"labelOverlap":false}}}},
    {"data":{"values":[{"lbl":"P"}]},"mark":{"type":"text","fontStyle":"italic","fontSize":10,"align":"left","baseline":"alphabetic","color":"#111"},"encoding":{"x":{"datum":6.5,"type":"quantitative","scale":{"domain":[0,96],"nice":false},"axis":{"values":[0,16,32,48,64,80,96],"title":"Overall survival (months)","labelFontSize":6,"titleFontSize":6.5,"labelOverlap":false}},"y":{"datum":2.4,"type":"quantitative","scale":{"domain":[0,100]},"axis":{"values":[0,20,40,60,80,100],"title":"Percent survival","labelFontSize":6,"titleFontSize":7.5,"titlePadding":1,"labelOverlap":false}},"text":{"field":"lbl"}}},
    {"data":{"values":[{"lbl":"=0.321 (log rank)"}]},"mark":{"type":"text","dx":6.7,"fontSize":10,"align":"left","baseline":"alphabetic","color":"#111"},"encoding":{"x":{"datum":6.5,"type":"quantitative","scale":{"domain":[0,96],"nice":false},"axis":{"values":[0,16,32,48,64,80,96],"title":"Overall survival (months)","labelFontSize":6,"titleFontSize":6.5,"labelOverlap":false}},"y":{"datum":2.4,"type":"quantitative","scale":{"domain":[0,100]},"axis":{"values":[0,20,40,60,80,100],"title":"Percent survival","labelFontSize":6,"titleFontSize":7.5,"titlePadding":1,"labelOverlap":false}},"text":{"field":"lbl"}}}
   ]}
 ],"spacing":62,"bounds":"flush","resolve":{"scale":{"strokeDash":"independent"},"legend":{"strokeDash":"independent"}}}
 ],"spacing":55,"bounds":"flush","resolve":{"scale":{"strokeDash":"independent"},"legend":{"strokeDash":"independent"}}}
],
"config":{
 "font":"Liberation Sans",
 "view":{"stroke":null},
 "axis":{"domainColor":"#222","tickColor":"#222","labelColor":"#111","titleColor":"#111","grid":false,"tickSize":3,"labelPadding":1,"labelFontSize":6.5,"labelFontWeight":"bold","titleFontSize":7,"titleFontWeight":"bold","domainWidth":1,"tickWidth":1,"labelOverlap":false},
 "axisX":{"labelFlush":false,"titlePadding":2},
 "axisY":{"titlePadding":3},
 "legend":{"padding":0,"rowPadding":2,"symbolSize":100,"symbolStrokeWidth":1,"symbolStrokeColor":"#222","labelColor":"#111","labelOffset":4}
}
}
